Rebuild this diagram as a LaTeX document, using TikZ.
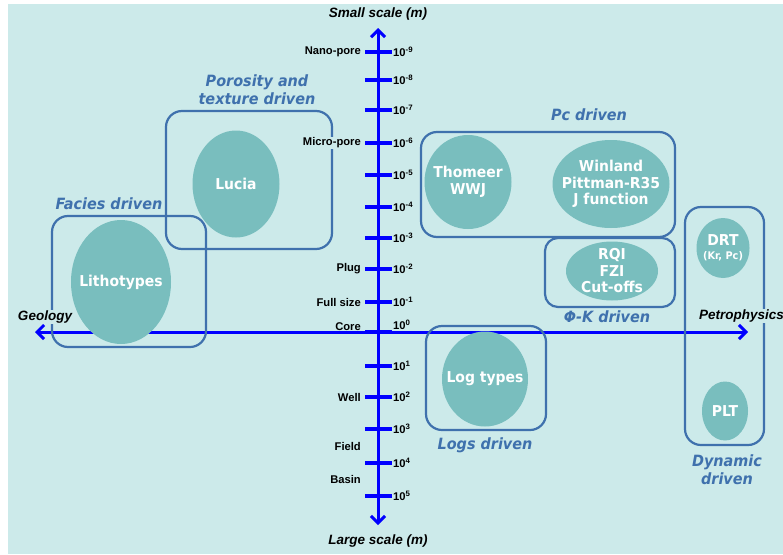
\documentclass[tikz,border=0pt]{standalone}
\usepackage{fontspec}
\setmainfont{Liberation Sans}
\newfontfamily\shapefont[FakeStretch=0.93]{DejaVu Sans}
\usetikzlibrary{shapes.geometric,arrows.meta}
\definecolor{bgcyan}{HTML}{CCEAEA}
\definecolor{blobteal}{HTML}{79BEBE}
\definecolor{groupblue}{HTML}{3F71AD}

\begin{document}
\begin{tikzpicture}[x=1pt,y=-1pt]
	\tikzstyle{axis} = [draw=blue,line width=3pt,{Straight Barb[length=7pt,width=14pt]}-{Straight Barb[length=7pt,width=14pt]}]
	\tikzstyle{tick} = [draw=blue,line width=4.5pt]
	\tikzstyle{scale label} = [font=\fontsize{11.2}{13}\selectfont\bfseries,inner sep=1pt]
	\tikzstyle{end label} = [font=\fontsize{13.5}{16}\selectfont\bfseries\itshape,inner sep=1pt]
	\tikzstyle{group} = [draw=groupblue,line width=2.2pt,rounded corners=16pt,inner sep=0pt]
	\tikzstyle{blob} = [ellipse,fill=blobteal,inner sep=-16pt,text=white,align=center,font=\shapefont\fontsize{15}{16.5}\selectfont\bfseries]
	\tikzstyle{group label} = [text=groupblue,align=center,font=\shapefont\fontsize{15.5}{18}\selectfont\bfseries\itshape]
	
	\useasboundingbox[fill=white] (0,0) rectangle (783,554);
	\fill[bgcyan] (8,4) rectangle (783,554);
	
	\coordinate (top) at (378,28);
	\coordinate (bottom) at (378,525);
	\coordinate (west) at (35,332);
	\coordinate (east) at (748,332);
	\path[axis] (west) -- (east);
	\path[axis] (bottom) -- (top);
	
	\foreach \y/\e/\ly [count=\i] in {52/-9/52,80/-8/80,110/-7/110,143/-6/143,175/-5/175,207/-4/207,238/-3/238,269/-2/269,302/-1/302,332/0/325,366/1/366,397/2/397,429/3/429,463/4/463,496/5/496}{
		\draw[tick] (365,\y) -- (392,\y);
		\node[scale label,anchor=west] (exp\i) at (392,\ly) {10\textsuperscript{\e}};
	}
	
	\node[group,minimum width=166pt,minimum height=138pt] (porosity) at (249,180) {};
	\node[group,minimum width=154pt,minimum height=131pt] (facies) at (129,281.5) {};
	\node[group,minimum width=254pt,minimum height=105pt] (pc) at (548,184.5) {};
	\node[group,minimum width=130pt,minimum height=69pt,rounded corners=13pt] (phik) at (610,272.5) {};
	\node[group,minimum width=79pt,minimum height=238pt] (dynamic) at (724.5,326) {};
	\node[group,minimum width=120pt,minimum height=104pt] (logs) at (486,378) {};
	
	\node[blob,minimum width=100pt,minimum height=124pt] (litho) at (121,282) {Lithotypes};
	\node[blob,minimum width=87pt,minimum height=107pt] (lucia) at (236,184) {Lucia};
	\node[blob,minimum width=87pt,minimum height=94pt] (thomeer) at (468,182) {Thomeer\\WWJ};
	\node[blob,minimum width=117pt,minimum height=88pt] (winland) at (611,184) {Winland\\Pittman-R35\\J function};
	\node[blob,minimum width=92pt,minimum height=59pt] (rqi) at (612,271) {RQI\\FZI\\Cut-offs};
	\node[blob,minimum width=53pt,minimum height=60pt] (drt) at (723,248) {DRT\\[-2pt]{\fontsize{10.5}{12}\selectfont(Kr, Pc)}};
	\node[blob,minimum width=46pt,minimum height=59pt] (plt) at (725,411) {PLT};
	\node[blob,minimum width=86pt,minimum height=95pt] (logtypes) at (485,379) {Log types};
	
	\node[group label] (lporosity) at (257,90) {Porosity and\\texture driven};
	\node[group label] (lfacies) at (109,204) {Facies driven};
	\node[group label] (lpc) at (589,115) {Pc driven};
	\node[group label] (lphik) at (607,317) {Φ-K driven};
	\node[group label] (llogs) at (485,445) {Logs driven};
	\node[group label] (ldynamic) at (727,470) {Dynamic\\driven};
	
	\node[end label] (small) at (378,14) {Small scale (m)};
	\node[end label] (large) at (378,541) {Large scale (m)};
	\node[end label,fill=bgcyan] (geology) at (45,317) {Geology};
	\node[end label,fill=bgcyan,anchor=west] (petro) at (698,316) {Petrophysics};
	
	\node[scale label,anchor=east] (nano) at (362,52) {Nano-pore};
	\node[scale label,anchor=east,fill=bgcyan] (micro) at (362,143) {Micro-pore};
	\node[scale label,anchor=east] (plug) at (362,269) {Plug};
	\node[scale label,anchor=east] (full) at (362,302) {Full size};
	\node[scale label,anchor=east] (core) at (362,327) {Core};
	\node[scale label,anchor=east] (well) at (362,397) {Well};
	\node[scale label,anchor=east] (field) at (362,446) {Field};
	\node[scale label,anchor=east] (basin) at (362,479) {Basin};
\end{tikzpicture}
\end{document}
